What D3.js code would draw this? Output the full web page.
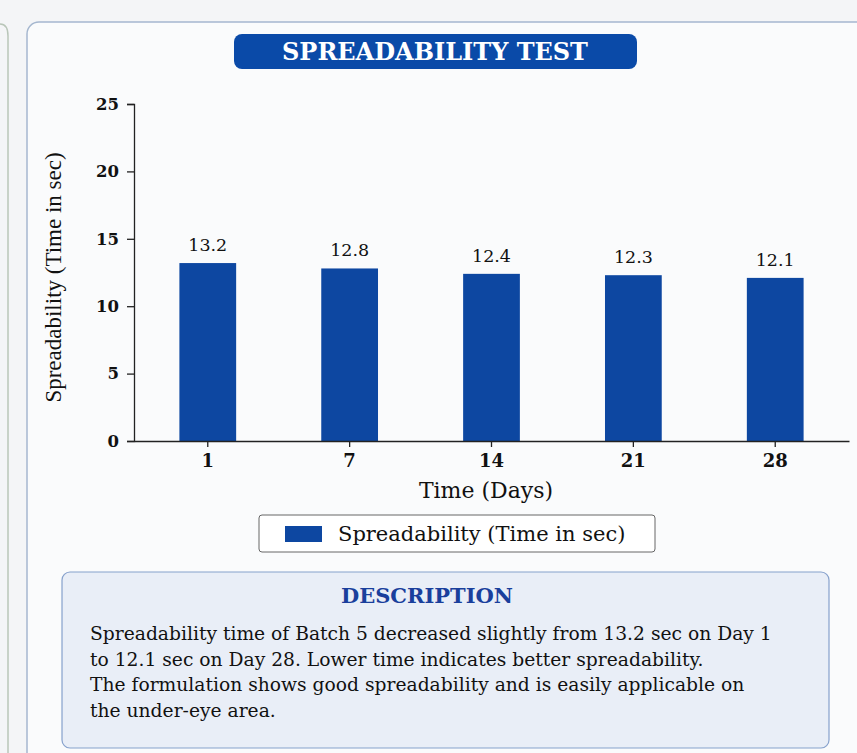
<!DOCTYPE html>
<html>
<head>
<meta charset="utf-8">
<script src="https://cdn.jsdelivr.net/npm/d3@7"></script>
<style>
  html, body { margin: 0; padding: 0; background: #f4f5f7; }
  svg { display: block; font-family: "DejaVu Serif", serif; }
</style>
</head>
<body>
<div id="chart"></div>
<script>
// chart data
const days = ['1', '7', '14', '21', '28'];
const spreadTimes = [13.2, 12.8, 12.4, 12.3, 12.1];
const yTicks = [0, 5, 10, 15, 20, 25];

const chartTitle = 'SPREADABILITY TEST';
const yLabel = 'Spreadability (Time in sec)';
const xLabel = 'Time (Days)';
const legendLabel = 'Spreadability (Time in sec)';
const descTitle = 'DESCRIPTION';
const descLines = [
    'Spreadability time of Batch 5 decreased slightly from 13.2 sec on Day 1',
    'to 12.1 sec on Day 28. Lower time indicates better spreadability.',
    'The formulation shows good spreadability and is easily applicable on',
    'the under-eye area.'
];

const width = 857;
const height = 753;
const blue = '#0d47a1';

const svg = d3.select('#chart')
    .append('svg')
    .attr('width', width)
    .attr('height', height);

// page background + neighbouring card edge on the left
svg.append('rect').attr('width', width).attr('height', height).attr('fill', '#f4f5f7');
svg.append('path')
    .attr('d', 'M0,24 Q8,24 8,36 L8,753')
    .attr('fill', 'none')
    .attr('stroke', '#b9c6b9')
    .attr('stroke-width', 1.5);

// main card
svg.append('rect')
    .attr('x', 27).attr('y', 22)
    .attr('width', 850).attr('height', 760)
    .attr('rx', 12)
    .attr('fill', '#fafbfc')
    .attr('stroke', '#a5b7cf')
    .attr('stroke-width', 1.5);

// title pill
svg.append('rect')
    .attr('x', 234).attr('y', 34)
    .attr('width', 403).attr('height', 35)
    .attr('rx', 8)
    .attr('fill', '#0a4aa8');
svg.append('text')
    .attr('x', 435).attr('y', 60)
    .attr('text-anchor', 'middle')
    .attr('fill', '#fff')
    .attr('font-weight', 'bold')
    .attr('font-size', 24)
    .text(chartTitle);

// plot area
const margin = { top: 104, right: 8, bottom: 312, left: 134 };
const plotRight = width - margin.right;
const plotBottom = height - margin.bottom;

const xScale = d3.scaleBand()
    .domain(days)
    .range([margin.left, plotRight])
    .paddingInner(0.6)
    .paddingOuter(0.32);

const yScale = d3.scaleLinear()
    .domain([0, 25])
    .range([plotBottom, margin.top]);

// bars
svg.append('g')
    .selectAll('rect')
    .data(spreadTimes)
    .join('rect')
    .attr('x', (d, i) => xScale(days[i]))
    .attr('y', (d) => yScale(d))
    .attr('width', xScale.bandwidth())
    .attr('height', (d) => yScale(0) - yScale(d))
    .attr('fill', blue);

// value labels
svg.append('g')
    .selectAll('text')
    .data(spreadTimes)
    .join('text')
    .attr('x', (d, i) => xScale(days[i]) + xScale.bandwidth() / 2)
    .attr('y', (d) => yScale(d) - 12)
    .attr('text-anchor', 'middle')
    .attr('font-size', 17.5)
    .attr('fill', '#111')
    .text((d) => d.toFixed(1));

// axes
const yAxis = d3.axisLeft(yScale).tickValues(yTicks).tickSize(7).tickPadding(8);
const gy = svg.append('g')
    .attr('transform', `translate(${margin.left}, 0)`)
    .call(yAxis);
gy.selectAll('text').attr('font-size', 16.5).attr('font-weight', 'bold').attr('fill', '#111')
    .style('font-family', '"DejaVu Serif", serif');
gy.selectAll('line, path').attr('stroke', '#222').attr('stroke-width', 1.3);

const xAxis = d3.axisBottom(xScale).tickSize(6).tickPadding(7).tickSizeOuter(0);
const gx = svg.append('g')
    .attr('transform', `translate(0, ${plotBottom})`)
    .call(xAxis);
gx.selectAll('text').attr('font-size', 18).attr('font-weight', 'bold').attr('fill', '#111')
    .style('font-family', '"DejaVu Serif", serif');
gx.selectAll('line, path').attr('stroke', '#222').attr('stroke-width', 1.3);

// axis titles
svg.append('text')
    .attr('transform', `translate(61, ${(margin.top + plotBottom) / 2 + 5}) rotate(-90)`)
    .attr('text-anchor', 'middle')
    .attr('font-size', 23)
    .style('font-family', '"Liberation Serif", serif')
    .attr('fill', '#111')
    .text(yLabel);

svg.append('text')
    .attr('x', 486).attr('y', 498)
    .attr('text-anchor', 'middle')
    .attr('font-size', 22)
    .attr('fill', '#111')
    .text(xLabel);

// legend
svg.append('rect')
    .attr('x', 259).attr('y', 515)
    .attr('width', 396).attr('height', 37)
    .attr('rx', 3)
    .attr('fill', '#fff')
    .attr('stroke', '#666')
    .attr('stroke-width', 1);
svg.append('rect')
    .attr('x', 285).attr('y', 526)
    .attr('width', 37).attr('height', 16)
    .attr('fill', blue);
svg.append('text')
    .attr('x', 338).attr('y', 541)
    .attr('font-size', 21)
    .attr('fill', '#111')
    .text(legendLabel);

// description box
svg.append('rect')
    .attr('x', 62).attr('y', 572)
    .attr('width', 767).attr('height', 176)
    .attr('rx', 8)
    .attr('fill', '#e9eef7')
    .attr('stroke', '#86a1cc')
    .attr('stroke-width', 1.2);
svg.append('text')
    .attr('x', 427).attr('y', 603)
    .attr('text-anchor', 'middle')
    .attr('font-size', 21)
    .attr('font-weight', 'bold')
    .attr('fill', '#1a3f9c')
    .text(descTitle);
svg.append('g')
    .selectAll('text')
    .data(descLines)
    .join('text')
    .attr('x', 90)
    .attr('y', (d, i) => 640 + i * 25.5)
    .attr('font-size', 18.7)
    .attr('fill', '#111')
    .text((d) => d);
</script>
</body>
</html>
